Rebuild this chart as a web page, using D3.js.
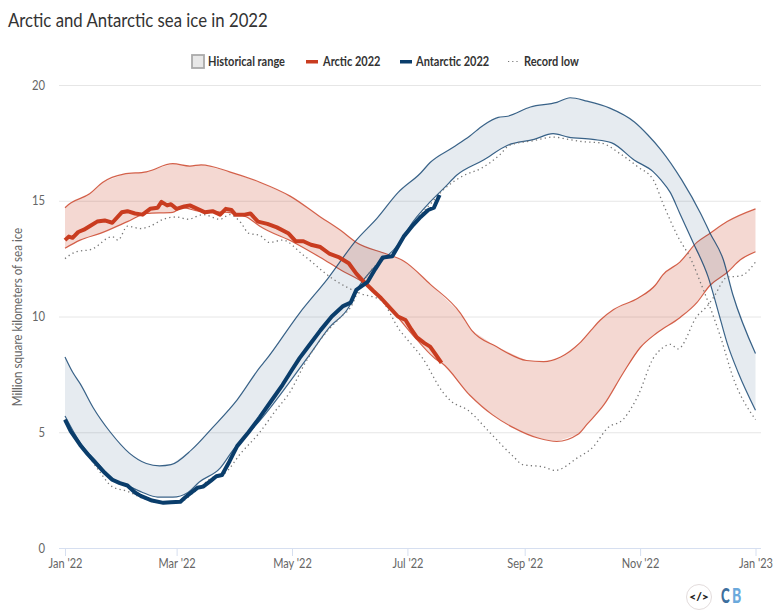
<!DOCTYPE html>
<html>
<head>
<meta charset="utf-8">
<script src="https://cdn.jsdelivr.net/npm/d3@7"></script>
<style>
  body { margin: 0; background: #fff; }
  text { font-family: Lato, "Noto Sans", sans-serif; }
  .tick text { font-size: 12.5px; fill: #666; }
</style>
</head>
<body>
<div id="chart"></div>
<script>
// values are [day of 2022, million sq km]
const arcticMax = [[0,14.7],[3,14.9],[13,15.3],[20,15.8],[31,16.15],[43,16.25],[57,16.6],[66,16.5],[72,16.55],[87,16.25],[103,15.8],[119,15.2],[135,14.3],[146,13.7],[154,13.2],[170,12.7],[179,12.4],[193,11.4],[209,10.15],[215,9.4],[228,8.7],[244,8.1],[253,8.05],[262,8.25],[272,8.85],[278,9.4],[283,9.85],[290,10.3],[303,10.8],[312,11.35],[316,11.8],[325,12.35],[334,13.2],[341,13.6],[350,14.1],[365,14.65]];
const arcticMin = [[0,12.95],[8,13.3],[19,13.6],[33,14.1],[43,14.45],[57,14.5],[62,14.7],[71,14.55],[86,14.5],[96,14.3],[103,13.9],[121,13.2],[135,12.55],[146,12.0],[158,11.45],[174,10.15],[186,9.0],[197,8.1],[199,8.0],[214,6.6],[226,5.75],[237,5.2],[250,4.75],[260,4.6],[271,4.9],[276,5.35],[285,6.2],[295,7.55],[304,8.65],[313,9.3],[325,9.95],[334,10.6],[341,11.35],[350,11.9],[357,12.45],[365,12.8]];
const arcticLow = [[0,12.5],[6,12.8],[14,12.9],[25,13.45],[28,13.3],[33,13.9],[40,13.8],[45,13.9],[52,14.2],[59,14.3],[65,14.2],[73,14.4],[82,14.2],[87,14.4],[93,14.05],[97,13.6],[103,13.5],[108,13.2],[115,13.3],[126,12.65],[142,11.6],[156,11.0],[167,10.7],[177,9.4],[181,9.0],[189,8.2],[200,6.7],[204,6.35],[213,5.95],[225,4.95],[237,3.95],[242,3.6],[253,3.5],[259,3.35],[271,3.9],[279,4.35],[287,5.2],[295,5.55],[303,6.6],[311,8.2],[316,8.65],[320,8.8],[324,8.6],[334,10.0],[340,10.5],[343,10.85],[350,11.7],[357,11.75],[365,12.35]];
const arctic2022 = [[0,13.3],[2,13.45],[4,13.4],[7,13.65],[10,13.75],[13,13.9],[17,14.1],[21,14.15],[25,14.05],[30,14.5],[33,14.55],[37,14.45],[41,14.4],[45,14.65],[49,14.7],[51,14.95],[54,14.8],[56,14.85],[59,14.65],[63,14.75],[66,14.8],[70,14.65],[74,14.5],[78,14.55],[82,14.4],[85,14.65],[88,14.6],[90,14.4],[95,14.4],[98,14.45],[102,14.1],[107,14.0],[112,13.85],[118,13.6],[122,13.25],[126,13.25],[130,13.1],[135,13.0],[140,12.7],[145,12.55],[150,12.3],[154,11.85],[158,11.5],[163,11.1],[167,10.8],[172,10.35],[176,10.0],[180,9.85],[183,9.45],[186,9.1],[190,8.85],[193,8.7],[196,8.35],[199,8.0]];
const antarcticMax = [[0,8.25],[4,7.6],[8,7.1],[15,6.05],[24,5.0],[34,4.1],[43,3.65],[50,3.55],[56,3.6],[67,4.25],[78,5.2],[91,6.4],[103,7.8],[106,8.1],[124,10.15],[139,11.65],[154,13.3],[165,14.25],[176,15.35],[188,16.2],[193,16.65],[205,17.3],[214,17.8],[221,18.25],[229,18.6],[234,18.65],[246,19.05],[260,19.25],[267,19.45],[276,19.3],[288,19.0],[301,18.4],[308,17.85],[315,17.2],[326,15.9],[336,14.45],[341,13.6],[348,12.45],[353,10.95],[365,8.4]];
const antarcticMin = [[0,5.7],[8,4.55],[17,3.7],[25,3.0],[33,2.7],[41,2.4],[49,2.2],[57,2.2],[65,2.4],[71,2.85],[82,3.45],[89,4.25],[103,5.5],[128,8.2],[140,9.55],[150,10.4],[155,11.25],[161,11.9],[176,13.1],[184,14.1],[193,14.95],[201,15.6],[207,16.1],[221,16.75],[234,17.4],[248,17.65],[258,17.9],[266,17.75],[279,17.65],[289,17.5],[301,16.75],[311,16.25],[315,15.9],[320,15.35],[325,14.45],[332,13.2],[340,11.7],[345,10.3],[350,8.85],[356,7.55],[365,5.95]];
const antarcticLow = [[0,5.55],[8,4.5],[17,3.45],[25,2.65],[33,2.45],[41,2.15],[52,1.95],[61,2.0],[68,2.4],[78,3.05],[84,3.2],[93,4.1],[103,5.0],[111,5.9],[119,6.75],[127,8.0],[135,9.0],[146,10.0],[151,10.4],[155,11.1],[161,11.9],[176,13.0],[184,14.0],[193,14.85],[201,15.55],[211,16.1],[220,16.4],[230,17.0],[235,17.4],[248,17.6],[258,17.75],[266,17.65],[274,17.55],[283,17.5],[294,17.0],[303,16.45],[311,15.9],[316,14.9],[324,13.45],[331,12.45],[336,11.45],[341,10.4],[347,9.0],[353,7.4],[365,5.55]];
const antarctic2022 = [[0,5.55],[3,5.05],[8,4.45],[12,4.05],[17,3.6],[21,3.25],[25,2.95],[29,2.8],[33,2.7],[37,2.4],[40,2.25],[46,2.05],[52,1.95],[56,1.98],[61,2.0],[63,2.15],[66,2.35],[70,2.6],[73,2.65],[77,2.9],[80,3.1],[83,3.15],[87,3.75],[91,4.4],[97,5.0],[103,5.65],[109,6.35],[115,7.05],[120,7.7],[124,8.2],[129,8.75],[135,9.4],[141,10.0],[147,10.45],[151,10.6],[154,11.15],[160,11.5],[164,12.05],[168,12.55],[173,12.6],[179,13.45],[184,13.95],[188,14.3],[192,14.6],[195,14.7],[198,15.25]];

const yTicks = [0, 5, 10, 15, 20];
const xTickDates = ["2022-01-01","2022-03-01","2022-05-01","2022-07-01","2022-09-01","2022-11-01","2023-01-01"];
const legendItems = ["Historical range", "Arctic 2022", "Antarctic 2022", "Record low"];

const w = 780;
const h = 613;
const red = "#c93c20";
const navy = "#0a3d6b";

const parseDay = d3.timeParse("%Y-%m-%d");
const start = parseDay("2022-01-01");
const dayDate = d => d3.timeDay.offset(start, d);

// the original font is narrower than anything installed
const condense = (sel, ratio) => sel.each(function() {
    d3.select(this)
        .attr("textLength", this.getComputedTextLength() * ratio)
        .attr("lengthAdjust", "spacingAndGlyphs");
});

const xScale = d3.scaleTime()
    .domain([start, parseDay("2023-01-01")])
    .range([65, 755.5]);
const yScale = d3.scaleLinear()
    .domain([0, 20])
    .range([548, 85]);

const svg = d3.select("#chart").append("svg")
    .attr("width", w)
    .attr("height", h)
    .style("display", "block");

svg.append("text")
    .text("Arctic and Antarctic sea ice in 2022")
    .attr("x", 8)
    .attr("y", 27)
    .style("font-size", "18.5px")
    .style("fill", "#333")
    .call(condense, 0.905);

// axes
const yAxis = d3.axisLeft(yScale).tickValues(yTicks).tickSize(702).tickPadding(14).tickFormat(d3.format("d"));
svg.append("g")
    .attr("transform", "translate(761,0)")
    .call(yAxis)
    .call(g => g.select(".domain").remove())
    .call(g => g.selectAll(".tick line").attr("stroke", "#e6e6e6"))
    .call(g => g.selectAll(".tick").filter(d => d === 0).select("line").attr("stroke", "#d6dff0"))
    .call(g => g.selectAll(".tick text").call(condense, 0.9));

const xAxis = d3.axisBottom(xScale)
    .tickValues(xTickDates.map(parseDay))
    .tickSize(8)
    .tickPadding(3)
    .tickFormat(d3.timeFormat("%b '%y"));
svg.append("g")
    .attr("transform", "translate(0,548)")
    .call(xAxis)
    .call(g => g.select(".domain").remove())
    .call(g => g.selectAll(".tick line").attr("stroke", "#d6dff0"))
    .call(g => g.selectAll(".tick text").call(condense, 0.88));

svg.append("text")
    .text("Million square kilometers of sea ice")
    .attr("transform", "rotate(-90)")
    .attr("x", -317)
    .attr("y", 22)
    .style("text-anchor", "middle")
    .style("font-size", "12.5px")
    .style("fill", "#666")
    .call(condense, 0.93);

const line = d3.line()
    .x(d => xScale(dayDate(d[0])))
    .y(d => yScale(d[1]))
    .curve(d3.curveMonotoneX);
const straight = d3.line()
    .x(d => xScale(dayDate(d[0])))
    .y(d => yScale(d[1]));

// historical range bands
function band(maxVals, minVals, col, opacity) {
    svg.append("path")
        .attr("d", straight(maxVals.concat(minVals.slice().reverse())) + "Z")
        .attr("fill", col)
        .attr("fill-opacity", opacity);
    [maxVals, minVals].forEach(vals => {
        svg.append("path")
            .attr("d", line(vals))
            .attr("fill", "none")
            .attr("stroke", col)
            .attr("stroke-opacity", 0.8)
            .attr("stroke-width", 1.2);
    });
}
band(arcticMax, arcticMin, red, 0.2);
band(antarcticMax, antarcticMin, navy, 0.1);

[arcticLow, antarcticLow].forEach(vals => {
    svg.append("path")
        .attr("d", line(vals))
        .attr("fill", "none")
        .attr("stroke", "#777")
        .attr("stroke-width", 1.3)
        .attr("stroke-dasharray", "1.3,3.2");
});

svg.append("path").attr("d", straight(arctic2022)).attr("fill", "none")
    .attr("stroke", red).attr("stroke-width", 4).attr("stroke-linejoin", "round");
svg.append("path").attr("d", straight(antarctic2022)).attr("fill", "none")
    .attr("stroke", navy).attr("stroke-width", 4).attr("stroke-linejoin", "round");

// legend
const legendText = (label, x) => svg.append("text")
    .text(label)
    .attr("x", x)
    .attr("y", 66)
    .style("font-size", "12.5px")
    .style("font-weight", "700")
    .style("fill", "#333")
    .call(condense, 0.88);

svg.append("rect").attr("x", 192).attr("y", 55).attr("width", 12).attr("height", 13)
    .attr("fill", "#e8e8e8").attr("stroke", "#aaa").attr("stroke-width", 1.8);
legendText(legendItems[0], 208);
svg.append("rect").attr("x", 306).attr("y", 60).attr("width", 12).attr("height", 3.5).attr("fill", red);
legendText(legendItems[1], 323);
svg.append("rect").attr("x", 400).attr("y", 60).attr("width", 12).attr("height", 3.5).attr("fill", navy);
legendText(legendItems[2], 416);
svg.append("line").attr("x1", 508).attr("x2", 519).attr("y1", 61.5).attr("y2", 61.5)
    .attr("stroke", "#777").attr("stroke-width", 1.2).attr("stroke-dasharray", "1.2,3");
legendText(legendItems[3], 524);

// footer logo
svg.append("circle").attr("cx", 699).attr("cy", 597).attr("r", 12.5)
    .attr("fill", "#fff").attr("stroke", "#e3dcdc");
svg.append("text").text("</>").attr("x", 699).attr("y", 601)
    .style("text-anchor", "middle").style("font-size", "12px").style("font-weight", "900").style("fill", "#222");
svg.append("text").text("C").attr("transform", "translate(721,603) scale(0.66,1)")
    .style("font-size", "20px").style("font-weight", "900").style("fill", "#3d6f9e");
svg.append("text").text("B").attr("transform", "translate(732,603) scale(0.7,1)")
    .style("font-size", "20px").style("font-weight", "900").style("fill", "#6ba9dc");
</script>
</body>
</html>
